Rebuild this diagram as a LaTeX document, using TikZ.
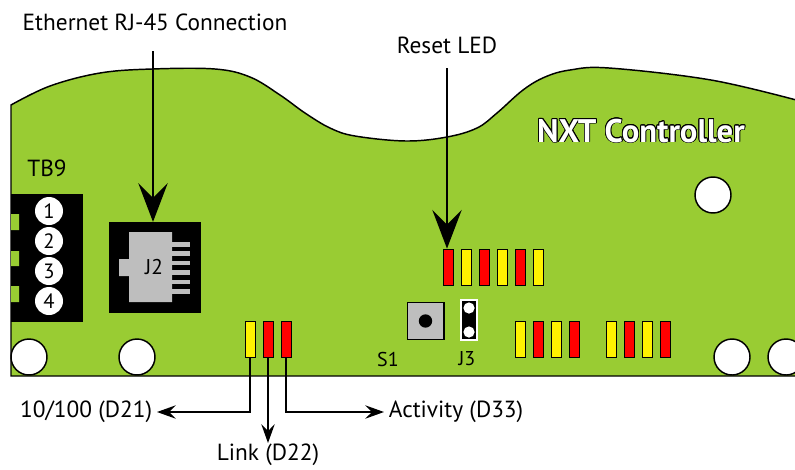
\documentclass[tikz,border=0pt]{standalone}
\usepackage{fontspec}
\setmainfont{PT Sans}
\usepackage{contour}
\contourlength{0.6pt}
\usetikzlibrary{arrows.meta}
\definecolor{boardgreen}{RGB}{153,204,51}
\definecolor{partgray}{RGB}{190,190,190}

\begin{document}
\begin{tikzpicture}[x=0.75pt,y=-0.75pt,
  led/.style={draw, line width=0.6pt, minimum width=7.5pt, minimum height=27pt, inner sep=0pt},
  hole/.style={circle, draw, fill=white, line width=1.1pt, minimum size=27pt, inner sep=0pt},
  pinno/.style={circle, fill=white, minimum size=21pt, inner sep=0pt, font=\fontsize{15.5}{15.5}\selectfont},
  bigarrow/.style={line width=2.2pt, -{Stealth[length=29pt, width=22pt, inset=11pt]}},
  callout/.style={line width=1.2pt, -{Stealth[length=14pt, width=10pt, inset=5pt]}},
  lbl/.style={font=\fontsize{17.5}{20}\selectfont, inner sep=3.5pt},
  partlbl/.style={font=\fontsize{15}{17}\selectfont, inner sep=2pt}]
  \useasboundingbox (0,0) rectangle (795,469);
  % Platine
  \fill[boardgreen] (11,376) -- plot[smooth, tension=0.6] coordinates {(11,105) (50,86) (100,73) (152,69) (215,69) (250,77) (280,95) (305,113) (330,128) (355,136) (406,141) (447,137) (477,128) (497,113) (523,90) (545,77) (570,70) (609,68) (711,80) (800,101)} -- (800,376) -- cycle;
  \draw[line width=1.1pt] (800,376) -- (11,376) -- plot[smooth, tension=0.6] coordinates {(11,105) (50,86) (100,73) (152,69) (215,69) (250,77) (280,95) (305,113) (330,128) (355,136) (406,141) (447,137) (477,128) (497,113) (523,90) (545,77) (570,70) (609,68) (711,80) (800,101)};
  \node[text=white, font=\bfseries\fontsize{24.5}{24.5}\selectfont] (nxt) at (641,131) {\contour{black}{NXT Controller}};
  % Befestigungslöcher
  \node[hole] (hole1) at (29,357) {};
  \node[hole] (hole2) at (137,357) {};
  \node[hole] (hole3) at (732,357) {};
  \node[hole] (hole4) at (786,357) {};
  \node[hole] (hole5) at (713,195) {};
  % Klemmleiste TB9
  \node[lbl] (tb9lbl) at (47,168) {TB9};
  \fill[black] (11,194) rectangle (83,322);
  \fill[boardgreen] (11,214) rectangle (19,230) (11,251) rectangle (19,266) (11,286) rectangle (19,302);
  \foreach \i/\y in {1/211,2/241,3/271,4/301}
    \node[pinno] (tb\i) at (49,\y) {\i};
  % Buchse J2
  \node[fill=black, minimum width=69pt, minimum height=68pt, inner sep=0pt] (j2box) at (155,267.5) {};
  \fill[partgray] (129,232) rectangle (172,302) (119,259) rectangle (129,276);
  \foreach \i in {0,...,5}
    \fill[partgray] (172,{242+9.4*\i}) rectangle (190,{246.5+9.4*\i});
  \node[font=\fontsize{16}{16}\selectfont] (j2lbl) at (154,267) {J2};
  % Taster S1 und Jumper J3
  \node[draw, fill=partgray, line width=1pt, minimum size=27.5pt, inner sep=0pt] (s1) at (425.5,321) {};
  \fill[black] (s1.center) circle (5pt);
  \node[partlbl] (s1lbl) at (388,359) {S1};
  \node[draw=white, fill=black, line width=0.8pt, minimum width=12pt, minimum height=30pt, inner sep=0pt] (j3) at (469,320) {};
  \fill[white] (469,308) circle (4.2pt) (469,332) circle (4.2pt);
  \node[partlbl] (j3lbl) at (467,359) {J3};
  % LEDs
  \foreach \x/\c [count=\i] in {448/red,466/yellow,484/red,502/yellow,520/red,538/yellow}
    \node[led, fill=\c] (top\i) at (\x,267) {};
  \foreach \x/\c [count=\i] in {520/yellow,538/red,556/yellow,574/red,611/yellow,629/red,647/yellow,665/red}
    \node[led, fill=\c] (bot\i) at (\x,339) {};
  \node[led, fill=yellow] (d21) at (250,339) {};
  \node[led, fill=red] (d22) at (268,339) {};
  \node[led, fill=red] (d33) at (286,339) {};
  % Beschriftung oben
  \node[lbl] (ethlbl) at (155,22) {Ethernet RJ-45 Connection};
  \coordinate (ethtop) at (153,51);
  \draw[bigarrow] (ethtop) -- (ethtop |- j2box.north);
  \node[lbl] (resetlbl) at (447,45) {Reset LED};
  \coordinate (resettop) at (447,68);
  \draw[bigarrow] (resettop) -- (resettop |- top1.north);
  % Beschriftung unten
  \node[lbl, anchor=east] (d21lbl) at (157,412) {10/100 (D21)};
  \node[lbl, anchor=north, inner sep=0.5pt] (d22lbl) at (268,443) {Link (D22)};
  \node[lbl, anchor=west] (d33lbl) at (384,412) {Activity (D33)};
  \draw[callout] (d21.south) |- (d21lbl.east);
  \draw[callout] (d22.south) -- (d22lbl.north);
  \draw[callout] (d33.south) |- (d33lbl.west);
\end{tikzpicture}
\end{document}
